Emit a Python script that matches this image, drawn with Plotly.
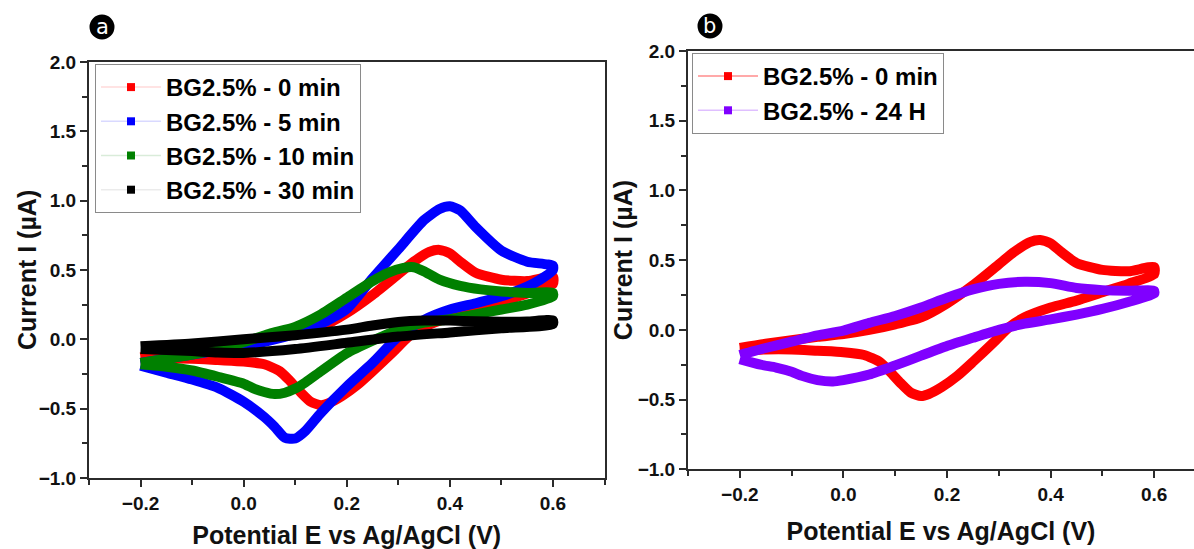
import plotly.graph_objects as go

# ---------------- Cyclic voltammograms, BG2.5% ----------------
# Each scan: forward sweep (-0.2 -> 0.6 V) followed by reverse sweep (0.6 -> -0.2 V)

# 0 min
E_0min_fwd = [-0.2, -0.15, -0.1, -0.05, 0.0, 0.05, 0.1, 0.15, 0.2, 0.25, 0.3, 0.33, 0.36, 0.38, 0.40, 0.42, 0.45, 0.5, 0.55, 0.6]
I_0min_fwd = [-0.13, -0.10, -0.075, -0.05, -0.03, 0.0, 0.04, 0.09, 0.19, 0.32, 0.47, 0.56, 0.63, 0.645, 0.62, 0.56, 0.48, 0.43, 0.42, 0.45]
E_0min_rev = [0.6, 0.55, 0.5, 0.45, 0.4, 0.35, 0.32, 0.29, 0.25, 0.22, 0.19, 0.165, 0.15, 0.13, 0.11, 0.09, 0.07, 0.04, 0.0, -0.05, -0.1, -0.15, -0.2]
I_0min_rev = [0.40, 0.33, 0.27, 0.21, 0.16, 0.09, 0.02, -0.09, -0.23, -0.33, -0.41, -0.46, -0.475, -0.45, -0.38, -0.30, -0.23, -0.18, -0.16, -0.15, -0.14, -0.14, -0.15]

# 5 min
E_5min_fwd = [-0.2, -0.15, -0.1, -0.05, 0.0, 0.05, 0.1, 0.15, 0.2, 0.25, 0.3, 0.35, 0.38, 0.40, 0.42, 0.45, 0.5, 0.55, 0.6]
I_5min_fwd = [-0.17, -0.14, -0.11, -0.08, -0.05, -0.01, 0.04, 0.11, 0.22, 0.44, 0.65, 0.86, 0.94, 0.96, 0.93, 0.81, 0.64, 0.56, 0.53]
E_5min_rev = [0.6, 0.575, 0.55, 0.5, 0.45, 0.4, 0.35, 0.3, 0.25, 0.2, 0.15, 0.12, 0.1, 0.08, 0.06, 0.04, 0.0, -0.05, -0.1, -0.15, -0.2]
I_5min_rev = [0.50, 0.43, 0.38, 0.31, 0.26, 0.215, 0.14, 0.02, -0.17, -0.34, -0.53, -0.66, -0.715, -0.71, -0.63, -0.56, -0.45, -0.35, -0.29, -0.24, -0.19]

# 10 min
E_10min_fwd = [-0.2, -0.15, -0.1, -0.05, 0.0, 0.05, 0.1, 0.15, 0.2, 0.25, 0.28, 0.31, 0.33, 0.35, 0.38, 0.42, 0.46, 0.5, 0.55, 0.6]
I_10min_fwd = [-0.17, -0.14, -0.11, -0.07, -0.02, 0.04, 0.09, 0.18, 0.30, 0.42, 0.48, 0.515, 0.52, 0.49, 0.43, 0.385, 0.36, 0.345, 0.335, 0.335]
E_10min_rev = [0.6, 0.55, 0.5, 0.45, 0.4, 0.35, 0.3, 0.25, 0.2, 0.15, 0.12, 0.1, 0.08, 0.06, 0.04, 0.02, 0.0, -0.05, -0.1, -0.15, -0.2]
I_10min_rev = [0.31, 0.25, 0.215, 0.18, 0.145, 0.12, 0.07, -0.01, -0.10, -0.23, -0.31, -0.355, -0.385, -0.395, -0.38, -0.355, -0.32, -0.27, -0.225, -0.198, -0.18]

# 30 min
E_30min_fwd = [-0.2, -0.1, 0.0, 0.1, 0.2, 0.25, 0.3, 0.35, 0.4, 0.45, 0.5, 0.55, 0.6]
I_30min_fwd = [-0.05, -0.03, 0.0, 0.03, 0.07, 0.10, 0.125, 0.135, 0.135, 0.13, 0.127, 0.128, 0.137]
E_30min_rev = [0.6, 0.5, 0.4, 0.3, 0.2, 0.1, 0.0, -0.05, -0.1, -0.15, -0.2]
I_30min_rev = [0.11, 0.08, 0.05, 0.02, -0.025, -0.07, -0.098, -0.095, -0.085, -0.077, -0.07]

# 24 H
E_24h_fwd = [-0.2, -0.15, -0.1, -0.05, 0.0, 0.05, 0.1, 0.15, 0.2, 0.25, 0.3, 0.35, 0.4, 0.45, 0.5, 0.55, 0.6]
I_24h_fwd = [-0.18, -0.13, -0.085, -0.04, -0.005, 0.05, 0.10, 0.16, 0.23, 0.29, 0.33, 0.345, 0.335, 0.30, 0.285, 0.28, 0.28]
E_24h_rev = [0.6, 0.55, 0.5, 0.45, 0.4, 0.35, 0.3, 0.25, 0.2, 0.15, 0.1, 0.05, 0.0, -0.02, -0.05, -0.08, -0.1, -0.13, -0.16, -0.2]
I_24h_rev = [0.26, 0.20, 0.15, 0.11, 0.075, 0.045, 0.0, -0.057, -0.116, -0.185, -0.255, -0.32, -0.36, -0.37, -0.36, -0.33, -0.30, -0.27, -0.25, -0.21]

labels_a = ["BG2.5% - 0 min", "BG2.5% - 5 min", "BG2.5% - 10 min", "BG2.5% - 30 min"]
labels_b = ["BG2.5% - 0 min", "BG2.5% - 24 H"]

RED, BLUE, GREEN, BLACK, PURPLE = "#ff0000", "#0000ff", "#008000", "#000000", "#8000ff"
FONT = "Liberation Sans, Arial, sans-serif"
AXIS_COLOR = "#2b2b2b"
W, H = 1194, 549


def loop(ef, i_f, er, i_r):
    return ef + er, i_f + i_r


fig = go.Figure()

scans_a = [
    (E_0min_fwd, I_0min_fwd, E_0min_rev, I_0min_rev, RED, "rgba(255,0,0,0.15)"),
    (E_5min_fwd, I_5min_fwd, E_5min_rev, I_5min_rev, BLUE, "rgba(0,0,255,0.15)"),
    (E_10min_fwd, I_10min_fwd, E_10min_rev, I_10min_rev, GREEN, "rgba(0,128,0,0.15)"),
    (E_30min_fwd, I_30min_fwd, E_30min_rev, I_30min_rev, BLACK, "rgba(0,0,0,0.08)"),
]
for (ef, i_f, er, i_r, col, faint), name in zip(scans_a, labels_a):
    x, y = loop(ef, i_f, er, i_r)
    fig.add_trace(go.Scatter(x=x, y=y, mode="lines", xaxis="x", yaxis="y",
                             line=dict(color=col, width=10, shape="spline", smoothing=0.6),
                             showlegend=False, hoverinfo="skip"))
for (ef, i_f, er, i_r, col, faint), name in zip(scans_a, labels_a):
    fig.add_trace(go.Scatter(x=[None], y=[None], mode="lines+markers", name=name,
                             xaxis="x", yaxis="y", legend="legend",
                             line=dict(color=faint, width=1.5),
                             marker=dict(symbol="square", size=8, color=col)))

scans_b = [
    (E_0min_fwd, I_0min_fwd, E_0min_rev, I_0min_rev, RED, "rgba(255,0,0,0.45)"),
    (E_24h_fwd, I_24h_fwd, E_24h_rev, I_24h_rev, PURPLE, "rgba(128,0,255,0.25)"),
]
for (ef, i_f, er, i_r, col, faint), name in zip(scans_b, labels_b):
    x, y = loop(ef, i_f, er, i_r)
    fig.add_trace(go.Scatter(x=x, y=y, mode="lines", xaxis="x2", yaxis="y2",
                             line=dict(color=col, width=10, shape="spline", smoothing=0.6),
                             showlegend=False, hoverinfo="skip"))
for (ef, i_f, er, i_r, col, faint), name in zip(scans_b, labels_b):
    fig.add_trace(go.Scatter(x=[None], y=[None], mode="lines+markers", name=name,
                             xaxis="x2", yaxis="y2", legend="legend2",
                             line=dict(color=faint, width=1.5),
                             marker=dict(symbol="square", size=8, color=col)))

tickfont = dict(family=FONT, size=19, color="#111", weight="bold")
titlefont = dict(family=FONT, size=25, color="#111", weight="bold")


def xaxis_style(domain, rng, anchor):
    return dict(domain=domain, range=rng, anchor=anchor, automargin=False,
                tickmode="linear", tick0=-0.2, dtick=0.2, tickformat=".1f",
                ticks="outside", ticklen=7, tickwidth=1.5, tickcolor=AXIS_COLOR,
                minor=dict(dtick=0.1, tick0=-0.3, ticks="outside", ticklen=5,
                           tickwidth=1.5, tickcolor=AXIS_COLOR),
                showline=True, linecolor=AXIS_COLOR, linewidth=2, mirror=True,
                showgrid=False, zeroline=False, tickfont=tickfont,
                title=dict(text="Potential E vs Ag/AgCl (V)", font=titlefont, standoff=18))


def yaxis_style(domain, anchor, mirror):
    return dict(domain=domain, range=[-1.0, 2.0], anchor=anchor, automargin=False,
                tickmode="linear", tick0=-1.0, dtick=0.5, tickformat=".1f",
                ticks="outside", ticklen=7, tickwidth=1.5, tickcolor=AXIS_COLOR,
                minor=dict(dtick=0.25, ticks="outside", ticklen=5,
                           tickwidth=1.5, tickcolor=AXIS_COLOR),
                showline=True, linecolor=AXIS_COLOR, linewidth=2, mirror=mirror,
                showgrid=False, zeroline=False, tickfont=tickfont)


xa_dom = [89 / W, 604.5 / W]
ya_dom = [1 - 478 / H, 1 - 62 / H]
xb_dom = [688 / W, 1.0]
yb_dom = [1 - 469.3 / H, 1 - 51 / H]

legend_font = dict(family=FONT, size=24, color="#000", weight="bold")

fig.update_layout(
    width=W, height=H, autosize=False,
    margin=dict(l=0, r=0, t=0, b=0, pad=0, autoexpand=False),
    paper_bgcolor="white", plot_bgcolor="white",
    xaxis=xaxis_style(xa_dom, [-0.3, 0.7], "y"),
    yaxis=yaxis_style(ya_dom, "x", True),
    xaxis2=xaxis_style(xb_dom, [-0.3, -0.3 + (W - 688) / 518], "y2"),
    yaxis2=yaxis_style(yb_dom, "x2", False),
    legend=dict(x=95 / W, y=1 - 64 / H, xanchor="left", yanchor="top",
                bgcolor="white", bordercolor="#8a8a8a", borderwidth=1,
                font=legend_font, itemwidth=60, tracegroupgap=0),
    legend2=dict(x=692 / W, y=1 - 53 / H, xanchor="left", yanchor="top",
                 bgcolor="white", bordercolor="#8a8a8a", borderwidth=1,
                 font=legend_font, itemwidth=60, tracegroupgap=0),
)

# Y-axis titles, placed beside each panel
for xc, dom in [(27, ya_dom), (623, yb_dom)]:
    fig.add_annotation(x=xc / W, y=(dom[0] + dom[1]) / 2, xref="paper", yref="paper",
                       text="Current I (µA)", textangle=-90, showarrow=False,
                       xanchor="center", yanchor="middle", font=titlefont)

# Circled panel letters
for cx, cy, letter in [(102, 27, "a"), (710, 26, "b")]:
    r = 12.5
    fig.add_shape(type="circle", xref="paper", yref="paper",
                  x0=(cx - r) / W, x1=(cx + r) / W, y0=1 - (cy + r) / H, y1=1 - (cy - r) / H,
                  fillcolor="black", line=dict(color="black", width=0))
    fig.add_annotation(x=cx / W, y=1 - cy / H, xref="paper", yref="paper",
                       text=letter, showarrow=False, xanchor="center", yanchor="middle",
                       font=dict(family="DejaVu Sans, sans-serif", size=21, color="white"))

fig.write_html("out.html")
